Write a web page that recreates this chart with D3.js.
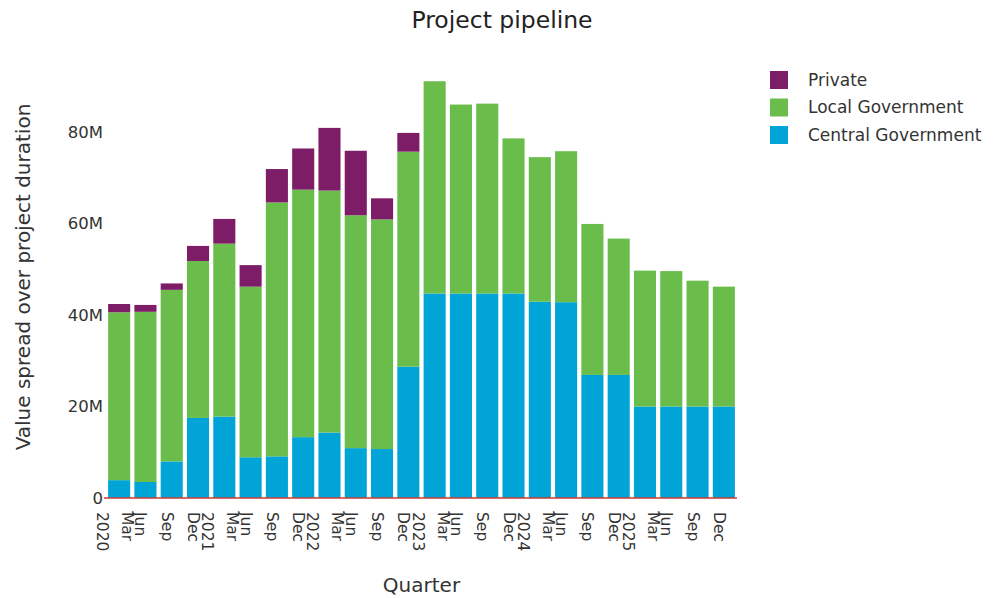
<!DOCTYPE html>
<html>
<head>
<meta charset="utf-8">
<script src="https://cdn.jsdelivr.net/npm/d3@7/dist/d3.min.js"></script>
<style>
  html, body { margin: 0; padding: 0; background: #fff; }
  svg { display: block; font-family: "DejaVu Sans", sans-serif; }
</style>
</head>
<body>
<svg id="chart" width="994" height="598"></svg>
<script>
// Quarters (quarter-end months)
const quarters = [
  "2020-03","2020-06","2020-09","2020-12",
  "2021-03","2021-06","2021-09","2021-12",
  "2022-03","2022-06","2022-09","2022-12",
  "2023-03","2023-06","2023-09","2023-12",
  "2024-03","2024-06","2024-09","2024-12",
  "2025-03","2025-06","2025-09","2025-12"
];

// Tick labels: month, plus the year on the first quarter of each year
const tickLabels = [
  ["Mar","2020"],["Jun"],["Sep"],["Dec"],
  ["Mar","2021"],["Jun"],["Sep"],["Dec"],
  ["Mar","2022"],["Jun"],["Sep"],["Dec"],
  ["Mar","2023"],["Jun"],["Sep"],["Dec"],
  ["Mar","2024"],["Jun"],["Sep"],["Dec"],
  ["Mar","2025"],["Jun"],["Sep"],["Dec"]
];

// Values in millions
const centralGov = [3.9,3.5,8.0,17.5,17.8,8.9,9.1,13.3,14.3,10.9,10.7,28.7,
                    44.7,44.7,44.7,44.7,42.9,42.8,26.9,26.9,20.0,20.0,20.0,20.0];
const localGov   = [36.7,37.2,37.5,34.3,37.8,37.3,55.5,54.1,52.9,50.9,50.2,47.0,
                    46.4,41.3,41.5,33.9,31.6,33.0,33.0,29.8,29.7,29.6,27.5,26.2];
const privateSec = [1.8,1.5,1.4,3.3,5.4,4.7,7.3,9.0,13.7,14.1,4.6,4.1,
                    0,0,0,0,0,0,0,0,0,0,0,0];

const seriesNames  = ["Central Government","Local Government","Private"];
const seriesColors = ["#00a4d6","#6abd4b","#7e1d67"];
const yTicks = [0, 20, 40, 60, 80];

const rows = quarters.map((q, i) => ({
  quarter: q,
  "Central Government": centralGov[i],
  "Local Government": localGov[i],
  "Private": privateSec[i]
}));

const svg = d3.select("#chart");
const plot = { left: 106, right: 737, top: 58.8, bottom: 498 };

const x = d3.scaleBand()
  .domain(quarters)
  .range([plot.left, plot.right])
  .paddingInner(0.16)
  .paddingOuter(0.08);

const y = d3.scaleLinear()
  .domain([0, 96])
  .range([plot.bottom, plot.top]);

const color = d3.scaleOrdinal().domain(seriesNames).range(seriesColors);

const stacked = d3.stack().keys(seriesNames)(rows);

// Stacked bars
svg.append("g")
  .selectAll("g")
  .data(stacked)
  .join("g")
    .attr("fill", d => color(d.key))
  .selectAll("rect")
  .data(d => d.filter(s => s[1] - s[0] > 0))
  .join("rect")
    .attr("x", d => x(d.data.quarter))
    .attr("width", x.bandwidth())
    .attr("y", d => y(d[1]))
    .attr("height", d => y(d[0]) - y(d[1]));

// Zero line
svg.append("line")
  .attr("x1", plot.left - 2).attr("x2", plot.right)
  .attr("y1", y(0)).attr("y2", y(0))
  .attr("stroke", "#cf3a32")
  .attr("stroke-width", 1.6);

// Y axis
const yAxis = svg.append("g")
  .attr("transform", `translate(${plot.left},0)`)
  .call(d3.axisLeft(y).tickValues(yTicks).tickSize(0).tickPadding(3)
    .tickFormat(d => d === 0 ? "0" : d + "M"));
yAxis.select(".domain").remove();
yAxis.selectAll("text")
  .attr("font-family", "DejaVu Sans, sans-serif")
  .attr("font-size", 16.5)
  .attr("fill", "#333");

// X tick labels, rotated
const xt = svg.append("g")
  .selectAll("text")
  .data(quarters)
  .join("text")
    .attr("transform", d => `translate(${x(d) + x.bandwidth() / 2},512) rotate(90)`)
    .attr("font-size", 15.5)
    .attr("fill", "#333");
xt.each(function(d, i) {
  const lines = tickLabels[i];
  const t = d3.select(this);
  if (lines.length === 1) {
    t.append("tspan").attr("x", 0).attr("y", 10).text(lines[0]);
  } else {
    t.append("tspan").attr("x", 0).attr("y", -3).text(lines[0]);
    t.append("tspan").attr("x", 0).attr("y", 22).text(lines[1]);
  }
});

// Title
svg.append("text")
  .attr("x", 502).attr("y", 28)
  .attr("text-anchor", "middle")
  .attr("font-size", 23.5)
  .attr("fill", "#222")
  .text("Project pipeline");

// Axis titles
svg.append("text")
  .attr("x", (plot.left + plot.right) / 2).attr("y", 592)
  .attr("text-anchor", "middle")
  .attr("font-size", 20)
  .attr("fill", "#333")
  .text("Quarter");

svg.append("text")
  .attr("transform", "translate(30,277) rotate(-90)")
  .attr("text-anchor", "middle")
  .attr("font-size", 20)
  .attr("fill", "#333")
  .text("Value spread over project duration");

// Legend (Private on top)
const legendOrder = ["Private","Local Government","Central Government"];
const legend = svg.append("g")
  .selectAll("g")
  .data(legendOrder)
  .join("g")
    .attr("transform", (d, i) => `translate(770,${71 + i * 27.5})`);
legend.append("rect")
  .attr("width", 18).attr("height", 18)
  .attr("fill", d => color(d));
legend.append("text")
  .attr("x", 38).attr("y", 9)
  .attr("dy", "0.35em")
  .attr("font-size", 17)
  .attr("fill", "#333")
  .text(d => d);
</script>
</body>
</html>
